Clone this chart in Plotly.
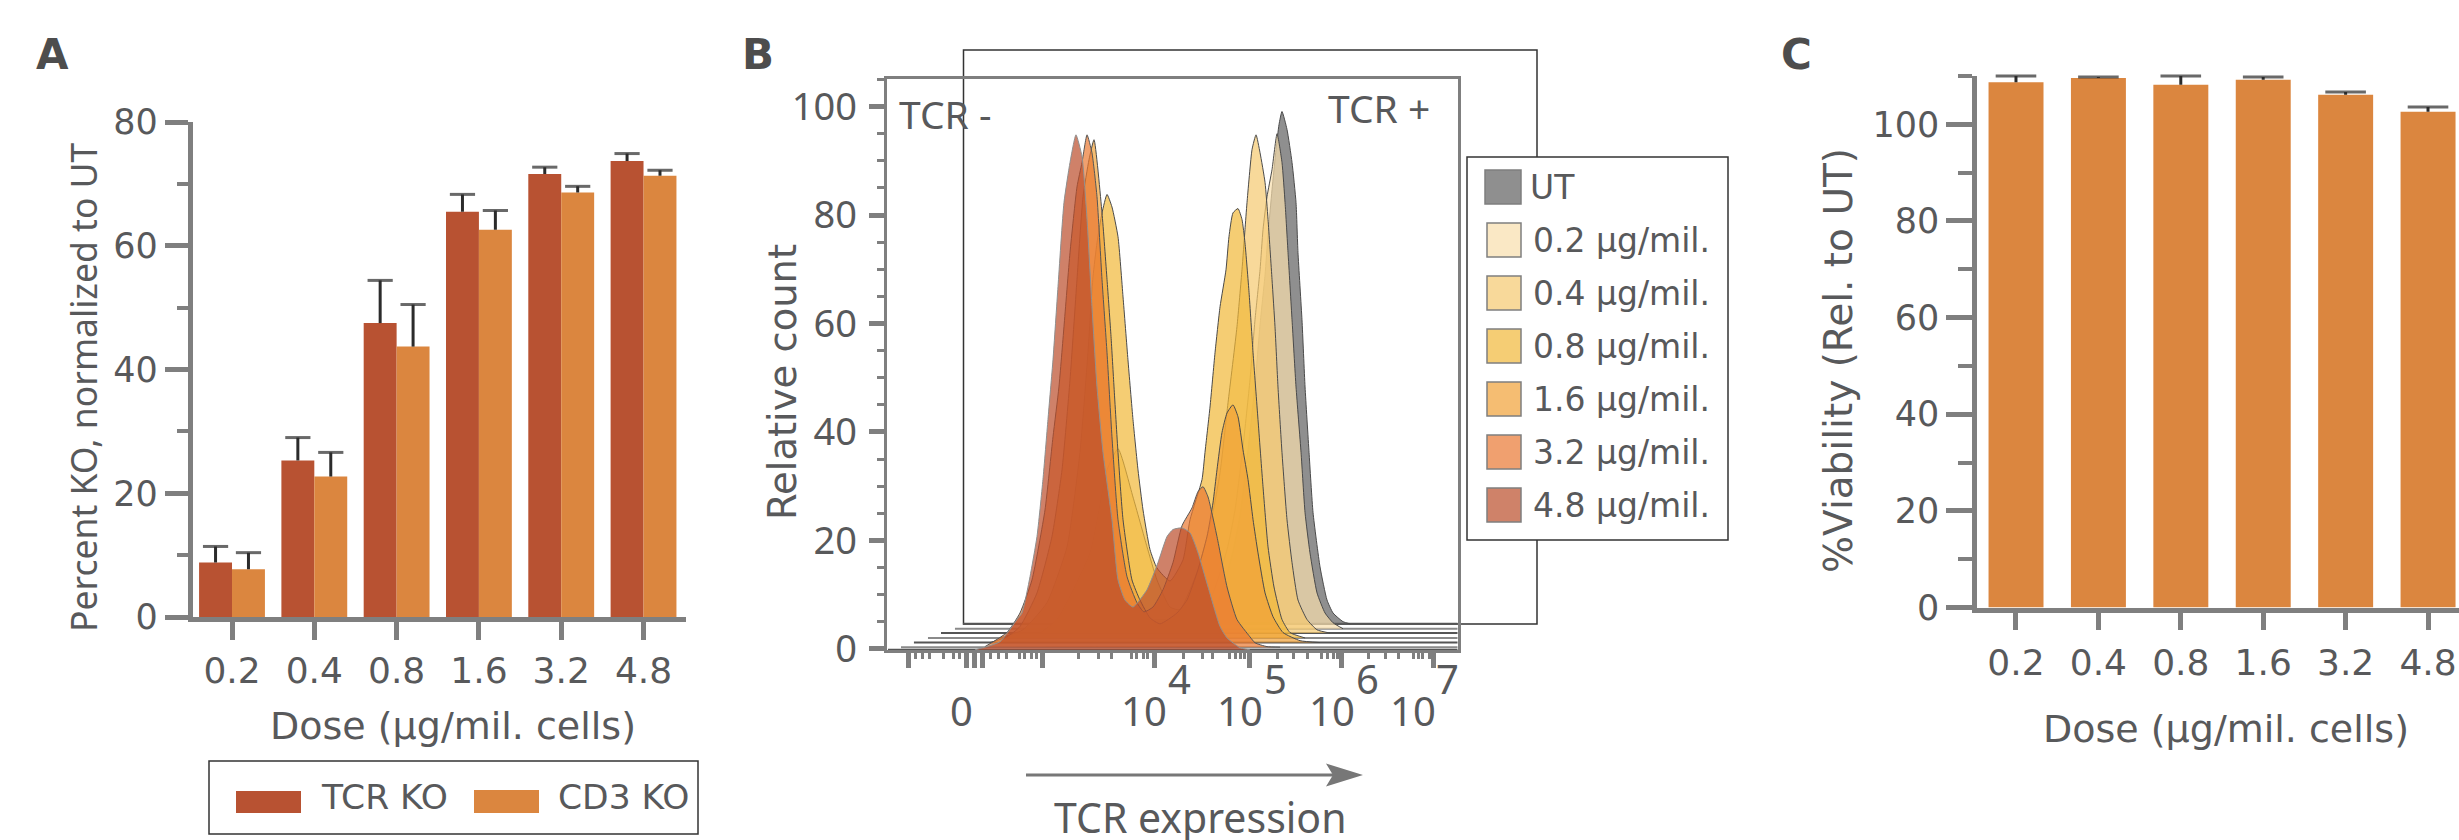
import plotly.graph_objects as go

W, H = 2459, 840
TEXT = "#58595b"
AXIS = "#7f7f7f"
DEJAVU = "DejaVu Sans"
NOTO = "Noto Sans"

# ---------- Panel A ----------
doses = ["0.2", "0.4", "0.8", "1.6", "3.2", "4.8"]
tcr_ko = [8.8, 25.3, 47.5, 65.5, 71.6, 73.7]
tcr_ko_err = [2.6, 3.7, 6.9, 2.8, 1.1, 1.2]
cd3_ko = [7.7, 22.7, 43.7, 62.6, 68.6, 71.3]
cd3_ko_err = [2.7, 3.9, 6.8, 3.1, 1.0, 0.9]

# ---------- Panel C ----------
viability = [108.7, 109.6, 108.2, 109.2, 106.1, 102.6]
viability_err = [1.3, 0.2, 1.8, 0.6, 0.6, 1.0]

# ---------- Panel B : histograms as read against the panel's own axes ----------
ut_x = [3.204, 3.634, 4.065, 4.495, 4.688, 4.839, 4.925, 5.011, 5.086, 5.140, 5.194, 5.226, 5.269, 5.312, 5.344, 5.376, 5.430, 5.484, 5.527, 5.548, 5.591, 5.624, 5.667, 5.710, 5.785, 5.860, 5.925, 6.032, 6.108]
ut_y = [4.6, 5.0, 5.0, 5.0, 9.0, 17.3, 24.7, 36.7, 48.7, 59.8, 69.0, 76.4, 84.7, 92.1, 96.7, 99.1, 95.8, 89.7, 82.3, 73.1, 60.7, 48.3, 36.2, 25.1, 15.1, 9.0, 6.6, 5.0, 4.6]
d02_x = [2.989, 3.312, 3.613, 3.957, 4.172, 4.462, 4.634, 4.785, 4.871, 4.957, 5.032, 5.086, 5.140, 5.172, 5.215, 5.269, 5.323, 5.376, 5.409, 5.441, 5.484, 5.527, 5.581, 5.624, 5.677, 5.753, 5.839, 5.925, 6.032]
d02_y = [3.7, 5.0, 5.7, 5.4, 5.4, 5.7, 10.3, 18.3, 25.6, 37.3, 49.6, 60.7, 69.9, 77.3, 83.4, 88.4, 95.0, 89.7, 82.3, 73.1, 60.7, 48.3, 36.2, 25.1, 17.7, 10.3, 6.6, 4.8, 3.7]
d04_x = [2.774, 2.957, 3.312, 3.495, 3.613, 3.774, 3.925, 4.032, 4.172, 4.280, 4.387, 4.473, 4.624, 4.710, 4.796, 4.892, 4.946, 4.978, 5.000, 5.054, 5.097, 5.140, 5.194, 5.226, 5.269, 5.301, 5.333, 5.376, 5.430, 5.484, 5.548, 5.645, 5.753, 5.892]
d04_y = [2.9, 5.4, 17.7, 33.0, 36.9, 28.0, 18.8, 12.7, 7.7, 7.2, 10.9, 14.6, 24.4, 32.5, 45.4, 59.4, 69.9, 77.3, 82.3, 92.1, 94.8, 91.5, 86.0, 79.2, 68.1, 59.4, 48.3, 36.2, 23.8, 15.9, 9.0, 5.4, 3.5, 2.9]
d08_x = [2.344, 2.591, 2.849, 3.065, 3.204, 3.290, 3.344, 3.387, 3.441, 3.495, 3.548, 3.613, 3.667, 3.720, 3.774, 3.828, 3.882, 3.957, 4.032, 4.172, 4.312, 4.387, 4.516, 4.548, 4.602, 4.656, 4.710, 4.774, 4.806, 4.849, 4.903, 4.946, 4.978, 5.022, 5.065, 5.118, 5.172, 5.226, 5.290, 5.376, 5.462, 5.624]
d08_y = [2.0, 3.5, 8.5, 18.8, 36.2, 54.6, 68.6, 74.9, 80.4, 83.8, 81.5, 76.0, 64.9, 53.3, 42.3, 33.0, 25.6, 18.3, 14.9, 12.5, 16.4, 23.8, 31.2, 36.2, 44.6, 54.6, 63.1, 69.9, 76.0, 80.4, 81.2, 79.2, 74.9, 65.7, 54.6, 42.3, 29.9, 18.8, 11.4, 5.4, 3.0, 2.0]
d16_x = [2.237, 2.419, 2.559, 2.742, 2.903, 3.011, 3.097, 3.172, 3.237, 3.301, 3.355, 3.441, 3.495, 3.538, 3.570, 3.613, 3.667, 3.763, 3.849, 3.957, 4.065, 4.247, 4.355, 4.473, 4.570, 4.634, 4.677, 4.731, 4.785, 4.849, 4.903, 4.957, 5.011, 5.065, 5.118, 5.194, 5.280, 5.387, 5.570, 5.785]
d16_y = [1.15, 2.2, 4.1, 10.3, 20.7, 33.0, 49.6, 68.1, 83.4, 90.2, 93.9, 80.4, 68.1, 57.6, 48.3, 36.2, 23.8, 12.7, 9.0, 5.7, 4.6, 6.6, 9.0, 14.6, 20.7, 26.9, 33.0, 39.9, 43.5, 45.0, 42.8, 36.7, 31.2, 23.8, 17.7, 10.3, 5.9, 3.0, 1.5, 1.15]
d32_x = [2.183, 2.419, 2.559, 2.688, 2.828, 2.914, 2.978, 3.032, 3.097, 3.172, 3.226, 3.280, 3.333, 3.387, 3.441, 3.495, 3.548, 3.613, 3.710, 3.817, 3.892, 3.989, 4.097, 4.204, 4.301, 4.409, 4.473, 4.527, 4.581, 4.677, 4.785, 4.892, 5.032, 5.086, 5.215, 5.355]
d32_y = [0.4, 3.0, 6.6, 12.7, 25.6, 39.1, 48.3, 59.4, 73.1, 85.2, 89.7, 94.8, 91.5, 83.4, 68.1, 54.6, 39.1, 23.8, 13.3, 8.5, 6.8, 7.7, 10.9, 15.9, 22.7, 26.0, 29.0, 29.9, 28.0, 20.7, 11.4, 5.4, 2.2, 1.1, 0.4, 0.3]
d48_x = [2.075, 2.344, 2.527, 2.581, 2.667, 2.742, 2.806, 2.860, 2.914, 2.968, 3.032, 3.097, 3.161, 3.226, 3.280, 3.333, 3.387, 3.452, 3.548, 3.613, 3.688, 3.774, 3.925, 4.043, 4.140, 4.204, 4.301, 4.387, 4.473, 4.581, 4.710, 4.785, 4.925, 5.032]
d48_y = [-0.2, 1.3, 5.4, 6.6, 13.3, 20.7, 31.2, 42.3, 53.3, 66.8, 82.3, 89.7, 94.8, 90.8, 79.2, 63.1, 48.3, 36.2, 23.8, 12.7, 9.0, 7.7, 10.9, 15.9, 20.7, 22.0, 22.3, 21.4, 17.7, 11.4, 4.1, 2.0, 0.2, -0.2]

hist_names = ["UT", "0.2 µg/mil.", "0.4 µg/mil.", "0.8 µg/mil.", "1.6 µg/mil.", "3.2 µg/mil.", "4.8 µg/mil."]
hist_x = [ut_x, d02_x, d04_x, d08_x, d16_x, d32_x, d48_x]
hist_y = [ut_y, d02_y, d04_y, d08_y, d16_y, d32_y, d48_y]
base_y = [4.6, 3.7, 2.9, 2.0, 1.15, 0.3, -0.2]
base_from = [1.946, 1.860, 1.710, 1.570, 1.419, 1.280, 1.14]
base_to = [8.118, 7.946, 7.796, 7.645, 7.527, 7.376, 7.28]

hist_fill = ["rgba(95,95,95,.7)", "rgba(248,222,172,.7)", "rgba(245,201,111,.7)", "rgba(241,184,56,.7)",
             "rgba(241,161,54,.7)", "rgba(234,119,49,.7)", "rgba(187,76,41,.7)"]
hist_line = ["#4a4a4a", "#4a4a4a", "#4a4a4a", "#4a4a4a", "#4a4a4a", "#555555", "#8f8f8f"]
legend_swatch = ["#8f8f8f", "#fae8c5", "#f8d99a", "#f5cd74", "#f5bd72", "#f0a06f", "#cf8269"]

b_major = [1.36, 1.989, 2.075, 2.151, 2.803, 4.0, 5.032, 6.018, 7.0]
b_minor = [1.441, 1.516, 1.591, 1.742, 1.839, 1.914, 2.247, 2.323, 2.419, 2.559, 2.613, 2.688, 2.742,
           3.183, 3.398, 3.548, 3.763, 3.817, 3.882, 3.935, 4.312, 4.516, 4.624, 4.817, 4.871, 4.925, 4.978,
           5.323, 5.495, 5.645, 5.806, 5.860, 5.925, 5.968, 6.301, 6.484, 6.624, 6.785, 6.839, 6.892, 6.957]

RED = "#b85232"
ORANGE = "#db863f"


def px(x):
    return x / W


def py(y):
    return 1 - y / H


fig = go.Figure()
pos = list(range(len(doses)))

fig.add_trace(go.Bar(x=pos, y=tcr_ko, width=0.4, offset=-0.4, marker=dict(color=RED, line_width=0), name="TCR KO",
                     xaxis="x", yaxis="y", cliponaxis=False))
fig.add_trace(go.Bar(x=pos, y=cd3_ko, width=0.4, offset=0, marker=dict(color=ORANGE, line_width=0), name="CD3 KO",
                     xaxis="x", yaxis="y", cliponaxis=False))
fig.add_trace(go.Bar(x=pos, y=viability, width=0.667, offset=-0.333, marker=dict(color=ORANGE, line_width=0), name="Viability",
                     xaxis="x3", yaxis="y3", cliponaxis=False))


def upper_whiskers(values, errors, shift, capsize, xa, ya, name):
    xs, ys, sizes = [], [], []
    for i, (v, e) in enumerate(zip(values, errors)):
        xs += [i + shift, i + shift, None]
        ys += [v, v + e, None]
        sizes += [0, capsize, 0]
    fig.add_trace(go.Scatter(x=xs, y=ys, mode="lines+markers", line=dict(color="#2b2b2b", width=3),
                             marker=dict(symbol="line-ew", size=sizes, color="#2b2b2b", line=dict(color="#2b2b2b", width=3)),
                             xaxis=xa, yaxis=ya, cliponaxis=False, hoverinfo="skip", name=name))


upper_whiskers(tcr_ko, tcr_ko_err, -0.2, 18, "x", "y", "TCR KO error")
upper_whiskers(cd3_ko, cd3_ko_err, 0.2, 18, "x", "y", "CD3 KO error")
upper_whiskers(viability, viability_err, 0, 29, "x3", "y3", "Viability error")

for i, name in enumerate(hist_names):
    fig.add_trace(go.Scatter(x=[base_from[i], base_to[i]], y=[base_y[i], base_y[i]], mode="lines",
                             line=dict(color="#555555" if i % 2 == 0 else "#8a8a8a", width=2),
                             xaxis="x2", yaxis="y2", cliponaxis=False, hoverinfo="skip", name=name + " baseline"))
for i, name in enumerate(hist_names):
    fig.add_trace(go.Scatter(x=hist_x[i], y=hist_y[i], mode="lines", fill="toself", fillcolor=hist_fill[i],
                             line=dict(color=hist_line[i], width=1, shape="spline", smoothing=0.5),
                             xaxis="x2", yaxis="y2", name=name))

tick_font = dict(family=DEJAVU, size=36, color=TEXT)


def bar_x(dom, rng, standoff):
    return dict(domain=[px(dom[0]), px(dom[1])], range=rng, type="linear", tickmode="array", tickvals=pos, ticktext=doses,
                showline=True, linecolor=AXIS, linewidth=4.5, ticks="outside", ticklen=18, tickwidth=5, tickcolor=AXIS,
                tickfont=tick_font, showgrid=False, zeroline=False, fixedrange=True, automargin=False, ticklabelstandoff=standoff)


def bar_y(dom, rng, major, minor, anchor, tl, ml):
    return dict(domain=[py(dom[0]), py(dom[1])], range=rng, dtick=major, tick0=0, showline=True, linecolor=AXIS, linewidth=4.5,
                ticks="outside", ticklen=tl, tickwidth=4.5, tickcolor=AXIS, tickfont=dict(family=DEJAVU, size=35, color=TEXT),
                minor=dict(dtick=minor, tick0=0, ticks="outside", ticklen=ml, tickwidth=4, tickcolor=AXIS, showgrid=False),
                showgrid=False, zeroline=False, anchor=anchor, fixedrange=True, automargin=False)


layout_axes = dict(
    xaxis=dict(bar_x((192.5, 686), [-0.48, 5.516], 0), anchor="y"),
    yaxis=bar_y((617, 122), [0, 80], 20, 10, "x", 23, 11),
    xaxis3=dict(bar_x((1977, 2459), [-0.473, 5.376], 2), anchor="y3"),
    yaxis3=bar_y((607.5, 76), [0, 110], 20, 10, "x3", 26, 14),
    xaxis2=dict(domain=[px(886.5), px(1457.5)], range=[1.124, 7.263], type="linear", anchor="y2", showticklabels=False,
                showline=True, mirror=True, linecolor=AXIS, linewidth=3, ticks="outside", tickmode="array", tickvals=b_major,
                ticklen=15, tickwidth=5, tickcolor=AXIS, showgrid=False, zeroline=False, fixedrange=True, automargin=False,
                minor=dict(tickmode="array", tickvals=b_minor, ticks="outside", ticklen=6, tickwidth=2.5, tickcolor=AXIS, showgrid=False)),
    yaxis2=dict(domain=[py(650.2), py(79)], range=[-0.26, 105.1], dtick=20, tick0=0, anchor="x2", showline=True, mirror=True,
                linecolor=AXIS, linewidth=3, ticks="outside", ticklen=15, tickwidth=5, tickcolor=AXIS, ticklabelstandoff=4,
                tickfont=dict(family=NOTO, size=38, color=TEXT), showgrid=False, zeroline=False, fixedrange=True, automargin=False,
                minor=dict(dtick=5, tick0=0, ticks="outside", ticklen=7, tickwidth=2.5, tickcolor=AXIS, showgrid=False)),
)

ann = []


def text(x, y, s, size, family=DEJAVU, color=TEXT, anchor="center", angle=0, bold=False):
    ann.append(dict(x=px(x), y=py(y), xref="paper", yref="paper", text=f"<b>{s}</b>" if bold else s, showarrow=False,
                    xanchor=anchor, yanchor="middle", textangle=angle, font=dict(family=family, size=size, color=color)))


text(52, 55, "A", 42, color="#4d4d4d", bold=True)
text(758, 55, "B", 42, color="#4d4d4d", bold=True)
text(1796, 55, "C", 42, color="#4d4d4d", bold=True)

text(453, 726, "Dose (µg/mil. cells)", 38)
text(83, 387, "Percent KO, normalized to UT", 35.5, family=NOTO, angle=-90)
text(2226, 729, "Dose (µg/mil. cells)", 38)
text(1838, 361, "%Viability (Rel. to UT)", 39, angle=-90)

text(783, 382, "Relative count", 38.5, angle=-90)
text(1200, 817, "TCR expression", 41, family=NOTO)
text(945, 114, "TCR -", 39, family=NOTO)
text(1379, 107, "TCR +", 39, family=NOTO)
text(961, 710, "0", 40, family=NOTO)
for cx, sx, e in [(1144, 1179, "4"), (1240, 1275, "5"), (1332, 1367, "6"), (1413, 1447, "7")]:
    text(cx, 710, "10", 40, family=NOTO)
    text(sx, 678, e, 40, family=NOTO)

text(319, 797, "TCR KO", 34.5, anchor="left")
text(556, 797, "CD3 KO", 34.5, anchor="left")

shapes = []


def rect(x0, y0, x1, y1, fill="rgba(0,0,0,0)", line="#333333", lw=1.5, layer="above"):
    shapes.append(dict(type="rect", xref="paper", yref="paper", x0=px(x0), x1=px(x1), y0=py(y0), y1=py(y1),
                       fillcolor=fill, line=dict(color=line, width=lw), layer=layer))


rect(963.5, 50, 1537, 624, line="#333333", lw=1.5, layer="below")
rect(209, 761, 698, 834)
rect(236, 791, 301, 813, fill=RED, lw=0)
rect(474, 790, 539, 813, fill=ORANGE, lw=0)

rect(1467, 157, 1728, 540, fill="white")
swatch_top = [170, 223, 276, 329, 382, 435, 488]
for i, name in enumerate(hist_names):
    left = 1485 if i == 0 else 1487
    rect(left, swatch_top[i], 1521, swatch_top[i] + 34, fill=legend_swatch[i], line="#7f7f7f", lw=1.5)
    text(1528 if i == 0 else 1531, swatch_top[i] + 17, name, 33, anchor="left")

# arrow below panel B
shapes.append(dict(type="line", xref="paper", yref="paper", x0=px(1026), x1=px(1335), y0=py(775), y1=py(775),
                   line=dict(color="#777777", width=3), layer="above"))
arrow = [(1363, 775), (1326, 763.5), (1333, 775), (1326, 786.5)]
shapes.append(dict(type="path", xref="paper", yref="paper",
                   path="M " + " L ".join(f"{px(a):.5f},{py(b):.5f}" for a, b in arrow) + " Z",
                   fillcolor="#777777", line=dict(width=0), layer="above"))

fig.update_layout(width=W, height=H, autosize=False, margin=dict(l=0, r=0, t=0, b=0), paper_bgcolor="white",
                  plot_bgcolor="rgba(0,0,0,0)", showlegend=False, barmode="overlay", annotations=ann, shapes=shapes,
                  font=dict(family=DEJAVU, color=TEXT), **layout_axes)

fig.write_html("out.html", config=dict(displayModeBar=False),
               post_script="document.body.style.margin='0';document.documentElement.style.overflow='hidden';")
